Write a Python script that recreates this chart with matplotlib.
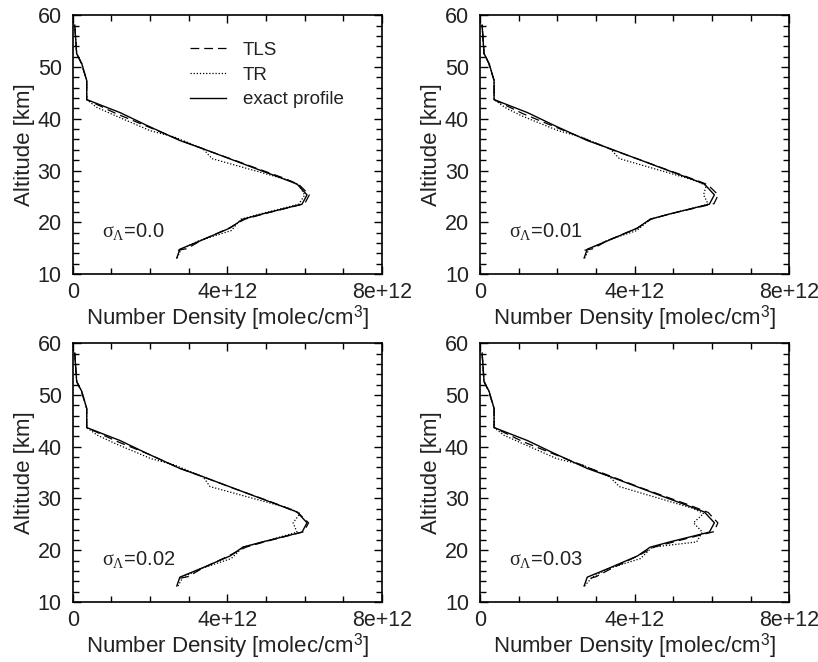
import numpy as np
import matplotlib
matplotlib.use('Agg')
import matplotlib.pyplot as plt
from matplotlib.ticker import MultipleLocator, FixedLocator, FuncFormatter

plt.rcParams['font.family'] = ['Liberation Sans', 'DejaVu Sans']
plt.rcParams['mathtext.fontset'] = 'custom'
plt.rcParams['mathtext.rm'] = 'Liberation Serif'
plt.rcParams['mathtext.it'] = 'Liberation Serif'
plt.rcParams['mathtext.sf'] = 'Liberation Sans'

# altitude grid [km] and densities in units of 1e12 molec/cm^3
alt = [13.1, 14.8, 16.4, 18.9, 20.6, 21.6, 23.5, 25.3, 27.4, 28.7, 30.3,
       31.9, 34.2, 35.8, 38.7, 41.2, 43.7, 47.4, 50.7, 52.6, 58.1]
exact = [2.69, 2.77, 3.29, 4.07, 4.40, 4.90, 5.93, 6.06, 5.80, 5.34, 4.76,
         4.19, 3.37, 2.77, 1.92, 1.22, 0.36, 0.36, 0.23, 0.10, 0.05]

tls_alt = [14.6, 14.9, 16.5, 18.8, 20.6, 21.7, 23.6, 25.3, 27.3, 28.7, 30.3,
           31.9, 34.1, 35.8, 38.6, 41.0, 43.7, 47.4, 50.7, 52.6, 58.1]
tls = [
    [2.72, 2.95, 3.32, 4.02, 4.45, 4.98, 6.00, 6.12, 5.85, 5.40, 4.80,
     4.22, 3.40, 2.80, 1.90, 1.12, 0.36, 0.36, 0.22, 0.10, 0.05],
    [2.70, 2.92, 3.30, 4.05, 4.42, 4.95, 6.05, 6.16, 5.88, 5.38, 4.78,
     4.20, 3.38, 2.82, 1.88, 1.10, 0.36, 0.36, 0.22, 0.10, 0.05],
    [2.78, 2.98, 3.35, 4.00, 4.48, 5.00, 5.98, 6.10, 5.82, 5.36, 4.78,
     4.18, 3.40, 2.78, 1.95, 1.15, 0.36, 0.36, 0.22, 0.10, 0.05],
    [2.86, 3.00, 3.40, 4.05, 4.50, 5.05, 6.05, 6.15, 5.90, 5.42, 4.82,
     4.22, 3.45, 2.85, 1.90, 1.10, 0.36, 0.36, 0.22, 0.10, 0.05],
]

tr_alt = [13.1, 14.8, 16.4, 18.4, 20.6, 21.6, 23.5, 25.3, 27.1, 28.1, 32.3,
          34.2, 36.5, 37.7, 40.6, 42.2, 43.7, 47.4, 50.7, 52.6, 58.1]
tr = [
    [2.70, 2.80, 3.25, 4.10, 4.35, 4.85, 5.85, 6.00, 5.85, 5.60, 3.60,
     3.37, 2.62, 2.00, 1.10, 0.62, 0.36, 0.36, 0.23, 0.10, 0.05],
    [2.70, 2.82, 3.25, 4.05, 4.40, 4.90, 5.90, 5.78, 5.85, 5.55, 3.60,
     3.37, 2.60, 2.02, 1.06, 0.64, 0.36, 0.36, 0.23, 0.10, 0.05],
    [2.72, 2.85, 3.30, 4.10, 4.40, 4.92, 5.80, 5.70, 5.88, 5.60, 3.55,
     3.37, 2.62, 2.02, 1.10, 0.64, 0.36, 0.36, 0.23, 0.10, 0.05],
    [2.70, 2.90, 3.30, 4.15, 4.45, 5.60, 5.75, 5.52, 5.78, 5.50, 3.60,
     3.35, 2.64, 1.98, 1.10, 0.62, 0.36, 0.36, 0.23, 0.10, 0.05],
]

sigma_labels = ['0.0', '0.01', '0.02', '0.03']

fig = plt.figure(figsize=(8.18, 6.62), dpi=100)
lefts = [0.089, 0.587, 0.089, 0.587]
bottoms = [0.586, 0.586, 0.0906, 0.0906]
w, h = 0.378, 0.391
txt = '#222222'

for i in range(4):
    ax = fig.add_axes([lefts[i], bottoms[i], w, h])
    ax.plot(np.array(tls[i]) * 1e12, tls_alt, color='black', lw=0.9,
            dashes=(7, 4), label='TLS')
    ax.plot(np.array(tr[i]) * 1e12, tr_alt, color='black', lw=0.9,
            linestyle=(0, (1, 1.5)), label='TR')
    ax.plot(np.array(exact) * 1e12, alt, color='black', lw=1.0,
            label='exact profile')

    ax.set_xlim(0, 8e12)
    ax.set_ylim(10, 60)
    ax.xaxis.set_major_locator(FixedLocator([0, 4e12, 8e12]))
    ax.xaxis.set_minor_locator(MultipleLocator(1e12))
    ax.xaxis.set_major_formatter(FuncFormatter(
        lambda v, p: '0' if v == 0 else '%de+12' % round(v / 1e12)))
    ax.yaxis.set_major_locator(MultipleLocator(10))
    ax.yaxis.set_minor_locator(MultipleLocator(2))
    ax.tick_params(which='both', direction='in', top=True, right=True,
                   labelsize=15.5, labelcolor=txt, color='black')
    ax.tick_params(which='major', length=6, width=1)
    ax.tick_params(which='minor', length=4, width=1)
    ax.tick_params(axis='x', which='major', pad=6)
    ax.tick_params(axis='y', which='major', pad=8)
    for s in ax.spines.values():
        s.set_linewidth(1.2)

    ax.set_xlabel('Number Density [molec/cm$^{\\mathsf{3}}$]', fontsize=16,
                  labelpad=0, color=txt)
    ax.set_ylabel('Altitude [km]', fontsize=16, labelpad=2, color=txt)
    ax.text(0.75e12, 18.3, r'$\sigma_\Lambda$=' + sigma_labels[i],
            fontsize=14.5, ha='left', va='center', color=txt)

    if i == 0:
        leg = ax.legend(loc='upper right', bbox_to_anchor=(0.93, 0.962),
                        frameon=False, fontsize=13.5, handlelength=1.9,
                        handletextpad=0.9, labelspacing=0.4)
        for t in leg.get_texts():
            t.set_color(txt)

fig.savefig('out.png', dpi=100)
